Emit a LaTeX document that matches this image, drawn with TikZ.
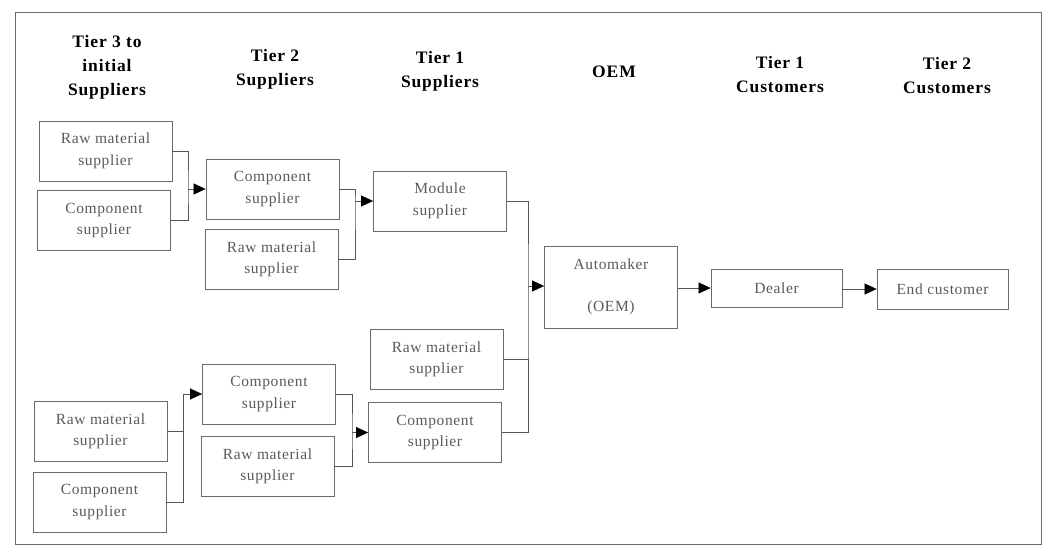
\documentclass[tikz,border=0pt]{standalone}
\usepackage{fontspec}
\setmainfont{Liberation Serif}
\usetikzlibrary{arrows.meta}
\definecolor{boxline}{HTML}{6A6A6A}
\definecolor{boxtext}{HTML}{5A5A5A}
\definecolor{wire}{HTML}{555555}
\tikzset{
  stage/.style={draw=boxline, line width=0.8pt, rectangle, minimum width=133pt,
    minimum height=60pt, inner sep=0pt, align=center, text=boxtext,
    font=\fontsize{15.5}{21.5}\selectfont\addfontfeatures{LetterSpace=4}},
  head/.style={align=center, text=black,
    font=\fontsize{17.5}{24}\selectfont\bfseries\addfontfeatures{LetterSpace=5}},
  wireline/.style={draw=wire, line width=0.7pt},
  arr/.style={wireline, -{Triangle[length=12pt,width=11pt,color=black]}},
}
\begin{document}
\begin{tikzpicture}[x=1pt, y=-1pt]
\useasboundingbox (0,0) rectangle (1055,547);
% outer frame
\draw[draw=boxline, line width=0.7pt] (15,12) rectangle (1041,544);

% column headings
\node[head] (h1) at (107,67) {Tier 3 to\\initial\\Suppliers};
\node[head] (h2) at (275,69) {Tier 2\\Suppliers};
\node[head] (h3) at (440,71) {Tier 1\\Suppliers};
\node[head] (h4) at (614,72) {OEM};
\node[head] (h5) at (780,75) {Tier 1\\Customers};
\node[head] (h6) at (947,76) {Tier 2\\Customers};

% upper supplier branch
\node[stage] (a1) at (105.5,151) {Raw material\\supplier};
\node[stage] (a2) at (104,220.5) {Component\\supplier};
\node[stage] (b1) at (272.5,189) {Component\\supplier};
\node[stage] (b2) at (271.5,259.5) {Raw material\\supplier};
\node[stage] (c1) at (440,201) {Module\\supplier};

% lower supplier branch
\node[stage] (d1) at (100.5,431.5) {Raw material\\supplier};
\node[stage] (d2) at (99.5,502) {Component\\supplier};
\node[stage] (e1) at (269,394) {Component\\supplier};
\node[stage] (e2) at (267.5,466.5) {Raw material\\supplier};
\node[stage] (c2) at (436.5,359.5) {Raw material\\supplier};
\node[stage] (c3) at (435,432.5) {Component\\supplier};

% OEM and customers
\node[stage, minimum height=82pt] (oem) at (611,287) {Automaker\\[21pt](OEM)};
\node[stage, minimum width=131pt, minimum height=38pt] (dealer) at (776.5,288) {Dealer};
\node[stage, minimum width=131pt, minimum height=40pt] (endc) at (942.5,289) {End customer};

% junction points of the merging lines
\coordinate (j1) at (188,189);
\coordinate (j2) at (355,201);
\coordinate (j3) at (528,286);
\coordinate (j4) at (183,394);
\coordinate (j5) at (352,432.5);

% upper branch links
\draw[wireline] (a1.east) -| (j1) |- (a2.east);
\draw[arr] (j1) -- (b1.west);
\draw[wireline] (b1.east) -| (j2) |- (b2.east);
\draw[arr] (j2) -- (c1.west);

% lower branch links
\draw[wireline] (d1.east) -- (d1.east -| j4);
\draw[wireline] (d2.east) -| (j4);
\draw[arr] (j4) -- (e1.west);
\draw[wireline] (e1.east) -| (j5) |- (e2.east);
\draw[arr] (j5) -- (c3.west);

% tier 1 into the automaker
\draw[wireline] (c1.east) -| (j3) |- (c3.east);
\draw[wireline] (c2.east) -- (c2.east -| j3);
\draw[arr] (j3) -- (j3 -| oem.west);

% downstream chain
\draw[arr] (oem.east |- dealer.west) -- (dealer.west);
\draw[arr] (dealer.east |- endc.west) -- (endc.west);
\end{tikzpicture}
\end{document}
